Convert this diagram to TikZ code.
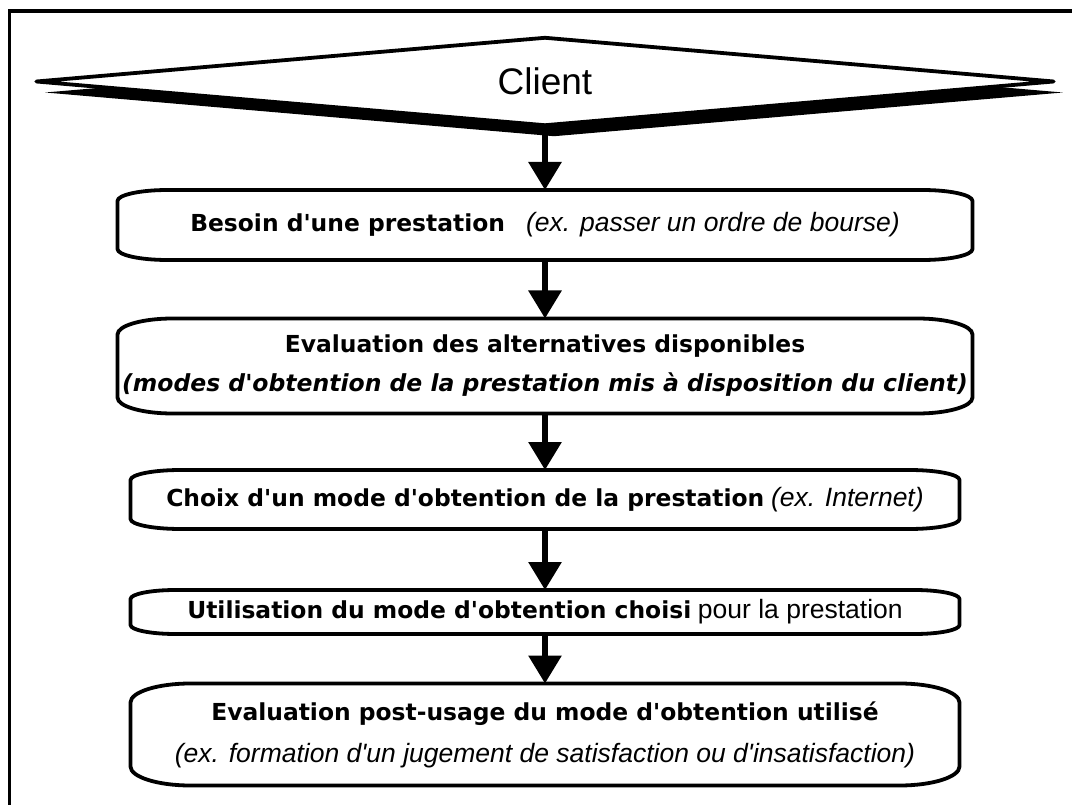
\documentclass[tikz,border=0pt]{standalone}
\usepackage{fontspec}
\setmainfont{Liberation Sans}
\newfontfamily\boldfam{DejaVu Sans}
\newfontfamily\regfam{Liberation Sans}
\usetikzlibrary{shapes.geometric,shadows,arrows.meta,calc}

% text runs used inside the flow steps (straight apostrophes kept)
\newcommand\boldtext[1]{{\boldfam\bfseries\fontsize{23.4pt}{39pt}\selectfont #1}}
\newcommand\bolditaltext[1]{{\boldfam\bfseries\itshape\fontsize{23.5pt}{39pt}\selectfont #1}}
\newcommand\italtext[1]{{\regfam\itshape\fontsize{26.5pt}{39pt}\selectfont #1}}
\newcommand\plaintext[1]{{\regfam\fontsize{26.5pt}{39pt}\selectfont #1}}

% outline of a step: straight sides joined by flat elliptic corners
\newcommand\flowoutline[3]{% node, x radius, y radius
  \draw[boxline]
    ($(#1.north west)+(0,#3)$)
    .. controls ($(#1.north west)+(0,0.448*#3)$) and ($(#1.north west)+(0.448*#2,0)$) .. ($(#1.north west)+(#2,0)$)
    -- ($(#1.north east)+(-#2,0)$)
    .. controls ($(#1.north east)+(-0.448*#2,0)$) and ($(#1.north east)+(0,0.448*#3)$) .. ($(#1.north east)+(0,#3)$)
    -- ($(#1.south east)+(0,-#3)$)
    .. controls ($(#1.south east)+(0,-0.448*#3)$) and ($(#1.south east)+(-0.448*#2,0)$) .. ($(#1.south east)+(-#2,0)$)
    -- ($(#1.south west)+(#2,0)$)
    .. controls ($(#1.south west)+(0.448*#2,0)$) and ($(#1.south west)+(0,-0.448*#3)$) .. ($(#1.south west)+(0,-#3)$)
    -- cycle;}

\tikzset{
  boxline/.style={line width=3.8pt, line join=round},
  stepnode/.style={inner sep=0pt, outer sep=0pt, align=center,
    font=\fontsize{24pt}{39pt}\selectfont},
  flowarrow/.style={line width=6pt, -{Triangle[length=28pt,width=32pt]}},
  frameline/.style={line width=3.6pt},
}

\begin{document}
\begin{tikzpicture}[x=1pt,y=-1pt]
  \useasboundingbox (0,0) rectangle (1072,805);
  \clip (0,0) rectangle (1072,805);
  \fill[white] (0,0) rectangle (1072,805);

  % outer frame
  \draw[frameline] (1090,11.3) -- (9.3,11.3) -- (9.3,820);

  % start symbol
  \node[diamond, draw, fill=white, line width=3.8pt, line join=round,
        inner sep=0pt, minimum width=1019pt, minimum height=89pt, aspect=11,
        drop shadow={shadow xshift=9pt, shadow yshift=-11pt, opacity=1, fill=black},
        font=\regfam\fontsize{37pt}{44pt}\selectfont] (client) at (545,81.5) {Client};

  % steps
  \node[stepnode, minimum width=855pt, minimum height=70pt] (b1) at (545,225)
    {\boldtext{Besoin d'une prestation}\hspace{21pt}\italtext{(ex. passer un ordre de bourse)}};
  \node[stepnode, minimum width=855pt, minimum height=95pt] (b2) at (545,366)
    {\boldtext{Evaluation des alternatives disponibles}\\
     \bolditaltext{(modes d'obtention de la prestation mis à disposition du client)}};
  \node[stepnode, minimum width=829pt, minimum height=59pt] (b3) at (545,499.5)
    {\boldtext{Choix d'un mode d'obtention de la prestation} \italtext{(ex. Internet)}};
  \node[stepnode, minimum width=829pt, minimum height=44pt] (b4) at (545,612)
    {\boldtext{Utilisation du mode d'obtention choisi} \plaintext{pour la prestation}};
  \node[stepnode, minimum width=829pt, minimum height=102pt] (b5) at (545,734.5)
    {\boldtext{Evaluation post-usage du mode d'obtention utilisé}\\[3pt]
     \italtext{(ex. formation d'un jugement de satisfaction ou d'insatisfaction)}};

  \flowoutline{b1}{50}{11}
  \flowoutline{b2}{55}{16}
  \flowoutline{b3}{50}{10}
  \flowoutline{b4}{45}{9}
  \flowoutline{b5}{60}{19}

  % connectors
  \draw[flowarrow] (client.south) -- (b1.north);
  \draw[flowarrow] (b1.south) -- (b2.north);
  \draw[flowarrow] (b2.south) -- (b3.north);
  \draw[flowarrow] (b3.south) -- (b4.north);
  \draw[flowarrow] (b4.south) -- (b5.north);
\end{tikzpicture}
\end{document}
